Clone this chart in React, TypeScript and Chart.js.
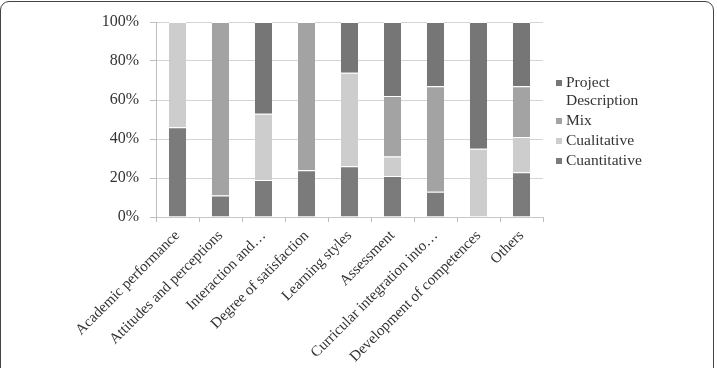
import React, { useEffect, useRef } from "react";
import { Chart, registerables } from "chart.js";

Chart.register(...registerables);

const categories = [
  "Academic performance",
  "Attitudes and perceptions",
  "Interaction and…",
  "Degree of satisfaction",
  "Learning styles",
  "Assessment",
  "Curricular integration into…",
  "Development of competences",
  "Others",
];
const cuantitative = [46, 11, 19, 24, 26, 21, 13, 0, 23];
const cualitative = [54, 0, 34, 0, 48, 10, 0, 35, 18];
const mix = [0, 89, 0, 76, 0, 31, 54, 0, 26];
const projectDescription = [0, 0, 47, 0, 26, 38, 33, 65, 33];
const yTicks = [0, 20, 40, 60, 80, 100];

const FONT = '"Liberation Serif", "Times New Roman", Tinos';

const legendPlugin = {
  id: "customLegend",
  afterDraw(chart: any) {
    const ctx = chart.ctx;
    const items = [
      { lines: ["Project", "Description"], color: "#767676", y: 83 },
      { lines: ["Mix"], color: "#a3a3a3", y: 121 },
      { lines: ["Cualitative"], color: "#cdcdcd", y: 141 },
      { lines: ["Cuantitative"], color: "#7b7b7b", y: 161 },
    ];
    ctx.save();
    ctx.font = `15.5px ${FONT}`;
    ctx.textBaseline = "middle";
    ctx.textAlign = "left";
    for (const it of items) {
      ctx.fillStyle = it.color;
      ctx.fillRect(556, it.y - 3, 6, 6);
      ctx.fillStyle = "#333";
      it.lines.forEach((l, i) => ctx.fillText(l, 566, it.y + i * 18));
    }
    ctx.restore();
  },
};

export default function App() {
  const ref = useRef<HTMLCanvasElement | null>(null);
  useEffect(() => {
    document.body.style.margin = "0";
    Chart.defaults.font.family = FONT;
    const c = new Chart(ref.current!, {
      type: "bar",
      data: {
        labels: categories,
        datasets: [
          { label: "Cuantitative", data: cuantitative, backgroundColor: "#7b7b7b" },
          { label: "Cualitative", data: cualitative, backgroundColor: "#cdcdcd" },
          { label: "Mix", data: mix, backgroundColor: "#a3a3a3" },
          { label: "Project Description", data: projectDescription, backgroundColor: "#767676" },
        ].map((d) => ({
          ...d,
          borderColor: "#ffffff",
          borderWidth: { top: 1, bottom: 0, left: 0, right: 0 },
          borderSkipped: false,
          barPercentage: 0.8,
          categoryPercentage: 0.5,
        })) as any,
      },
      options: {
        animation: false,
        responsive: false,
        maintainAspectRatio: false,
        layout: { padding: { left: 0, right: 174, top: 22, bottom: 0 } },
        plugins: { legend: { display: false }, tooltip: { enabled: false } },
        scales: {
          x: {
            stacked: true,
            grid: {
              display: true,
              drawOnChartArea: false,
              offset: true,
              color: "#bdbdbd",
              tickLength: 5,
            },
            border: { color: "#c8c8c8" },
            ticks: {
              maxRotation: 45,
              minRotation: 45,
              autoSkip: false,
              padding: 5,
              color: "#333",
              font: { family: FONT, size: 15 },
            },
            afterFit: (s: any) => {
              s.height = 151;
            },
          },
          y: {
            stacked: true,
            min: 0,
            max: 100,
            afterBuildTicks: (s: any) => {
              s.ticks = yTicks.map((v) => ({ value: v }));
            },
            grid: { color: "#d4d4d4", tickLength: 6, tickColor: "#bdbdbd" },
            border: { color: "#bdbdbd" },
            ticks: {
              padding: 11,
              color: "#333",
              font: { family: FONT, size: 16 },
              callback: (v: any) => v + "%",
            },
            afterFit: (s: any) => {
              s.width = 156;
            },
          },
        },
      },
      plugins: [legendPlugin],
    });
    return () => c.destroy();
  }, []);
  return (
    <div style={{ position: "relative", width: 717, height: 368, overflow: "hidden", background: "#fff" }}>
      <div
        style={{
          position: "absolute",
          left: 0,
          top: 1,
          width: 714,
          height: 400,
          border: "1.5px solid #444",
          borderRadius: 9,
          boxSizing: "border-box",
        }}
      />
      <canvas ref={ref} width={717} height={368} style={{ position: "absolute", left: 0, top: 0 }} />
    </div>
  );
}
